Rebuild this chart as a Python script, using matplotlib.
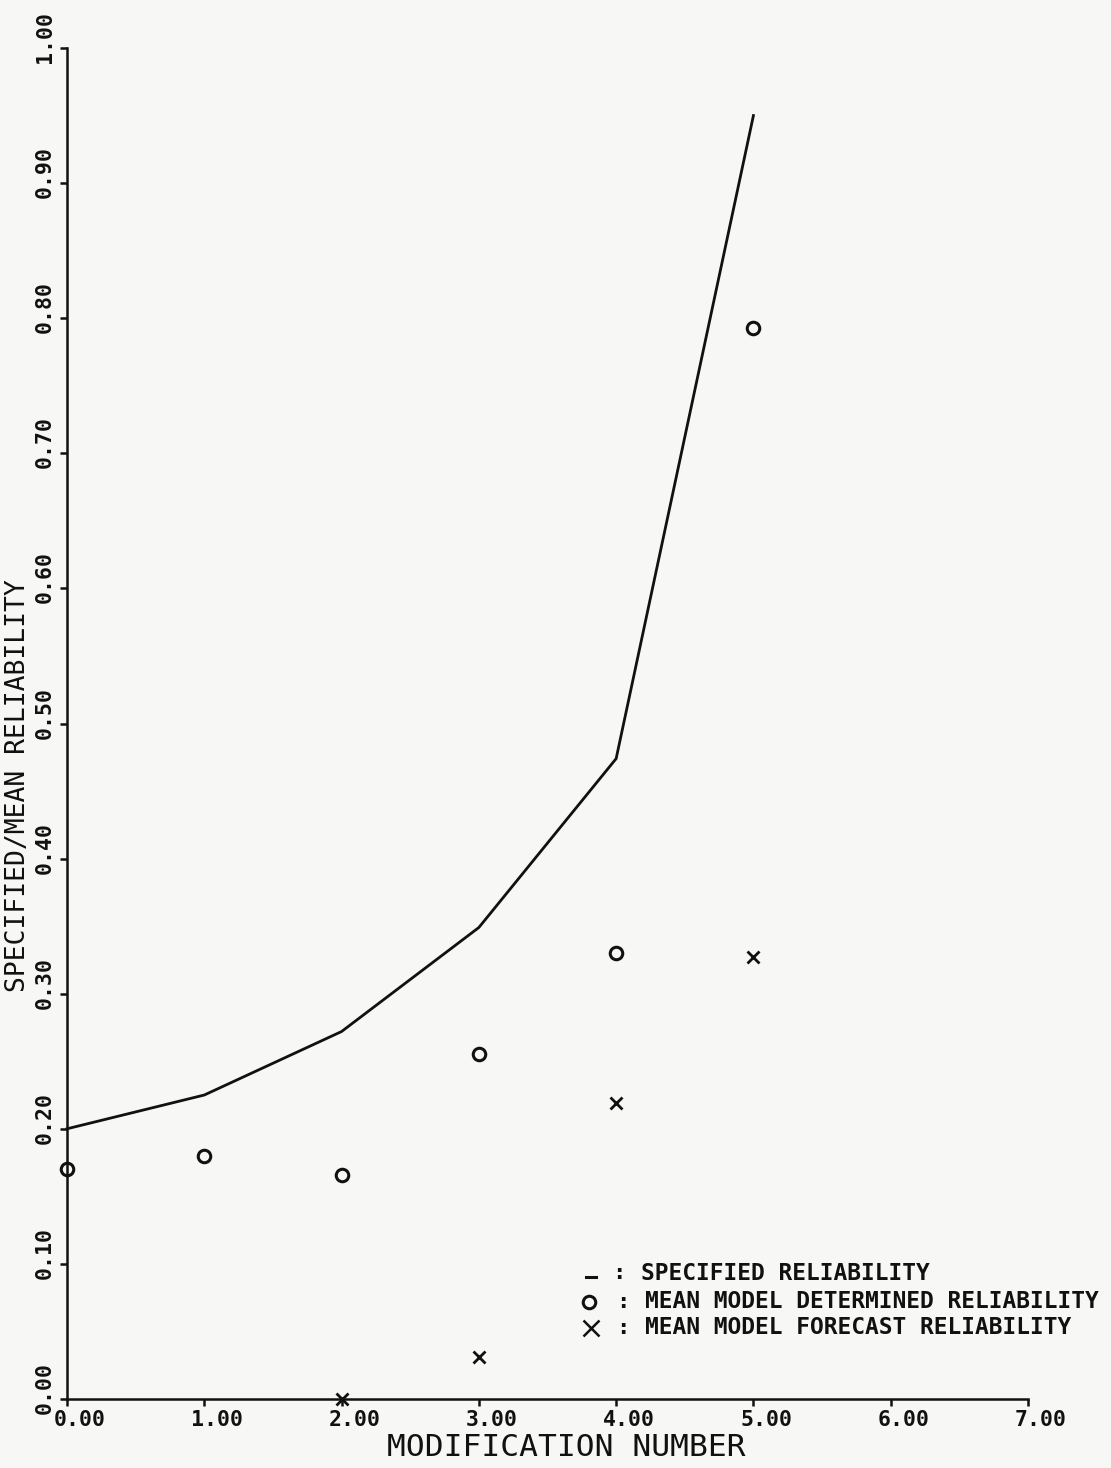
import matplotlib
matplotlib.use("Agg")
import matplotlib.pyplot as plt
from matplotlib.lines import Line2D

# Reliability per modification
modification = [0, 1, 2, 3, 4, 5]
specified_reliability = [0.200, 0.225, 0.272, 0.349, 0.474, 0.950]
determined_x = [0, 1, 2, 3, 4, 5]
determined_reliability = [0.170, 0.180, 0.166, 0.255, 0.330, 0.793]
forecast_x = [2, 3, 4, 5]
forecast_reliability = [0.000, 0.031, 0.219, 0.327]

x_ticks = [0, 1, 2, 3, 4, 5, 6, 7]
y_ticks = [0.0, 0.1, 0.2, 0.3, 0.4, 0.5, 0.6, 0.7, 0.8, 0.9, 1.0]

INK = "#111111"
PAPER = "#f7f7f5"
MONO = ["DejaVu Sans Mono"]

W, H = 1111, 1468
fig = plt.figure(figsize=(W / 100, H / 100), dpi=100, facecolor=PAPER)
ax = fig.add_axes([67 / W, 1 - 1399 / H, (1028 - 67) / W, (1399 - 48) / H])
ax.set_facecolor(PAPER)
ax.set_xlim(0, 7)
ax.set_ylim(0, 1)

for side in ("top", "right"):
    ax.spines[side].set_visible(False)
for side in ("left", "bottom"):
    ax.spines[side].set_linewidth(1.8)
    ax.spines[side].set_color(INK)

ax.set_xticks(x_ticks)
ax.set_yticks(y_ticks)
ax.tick_params(direction="out", length=5, width=1.8, color=INK,
               labelbottom=False, labelleft=False)

# tick labels in plotter style
for v in x_ticks:
    ax.annotate(f"{v:.2f}", xy=(v, 0), xycoords="data",
                xytext=(13, -21), textcoords="offset pixels",
                ha="center", va="center", fontsize=15.5, family=MONO,
                fontweight="bold", color=INK)
for v in y_ticks:
    ax.annotate(f"{v:.2f}", xy=(0, v), xycoords="data",
                xytext=(-22, 11), textcoords="offset pixels",
                ha="center", va="center", rotation=90, fontsize=15.5,
                family=MONO, fontweight="bold", color=INK)

# series
ax.plot(modification, specified_reliability, color=INK, lw=2.0,
        solid_joinstyle="miter", clip_on=False, zorder=3)
ax.plot(determined_x, determined_reliability, linestyle="none", marker="o",
        markersize=9.0, markerfacecolor="none", markeredgecolor=INK,
        markeredgewidth=2.2, clip_on=False, zorder=4)
ax.plot(forecast_x, forecast_reliability, linestyle="none", marker="x",
        markersize=8.5, markeredgecolor=INK, markeredgewidth=2.0,
        clip_on=False, zorder=4)

# axis titles
fig.text(566 / W, 1 - 1447 / H, "MODIFICATION NUMBER", ha="center",
         va="center", fontsize=22.5, family=MONO, color=INK)
fig.text(18 / W, 1 - 786 / H, "SPECIFIED/MEAN RELIABILITY", ha="center",
         va="center", rotation=90, fontsize=19, family=MONO, color=INK)

# key
key_rows = [
    (1273, "_", "SPECIFIED RELIABILITY", 641),
    (1302, "o", "MEAN MODEL DETERMINED RELIABILITY", 645),
    (1328, "x", "MEAN MODEL FORECAST RELIABILITY", 645),
]
for y, mk, label, x0 in key_rows:
    yf = 1 - y / H
    if mk == "_":
        fig.add_artist(Line2D([586 / W, 596 / W], [yf - 4 / H, yf - 4 / H],
                              color=INK, lw=2.2))
    elif mk == "o":
        fig.add_artist(Line2D([589 / W], [yf], marker="o", markersize=9,
                              markerfacecolor="none", markeredgecolor=INK,
                              markeredgewidth=2.2))
    else:
        fig.add_artist(Line2D([591 / W], [yf], marker="x", markersize=12,
                              markeredgecolor=INK, markeredgewidth=1.8))
    fig.text((x0 - 22) / W, yf, ":", ha="center", va="center", fontsize=16,
             family=MONO, fontweight="bold", color=INK)
    fig.text(x0 / W, yf, label, ha="left", va="center", fontsize=16.5,
             family=MONO, fontweight="bold", color=INK)

fig.savefig("out.png", dpi=100, facecolor=PAPER)
